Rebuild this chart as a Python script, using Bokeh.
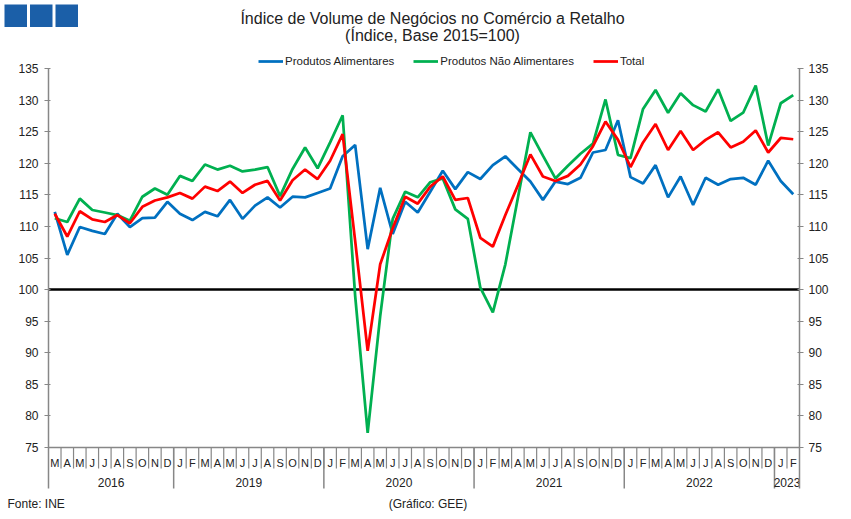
import numpy as np
from bokeh.plotting import figure
from bokeh.layouts import column
from bokeh.models import (Range1d, LinearAxis, FixedTicker, Legend, LegendItem, Span)
from bokeh.core.properties import value
from bokeh.embed import file_html
from bokeh.resources import INLINE

# ---------------- data ----------------
years = ["2016", "2019", "2020", "2021", "2022", "2023"]
months_per_year = [10, 12, 12, 12, 12, 2]
month_labels = (["M", "A", "M", "J", "J", "A", "S", "O", "N", "D"]
                + ["J", "F", "M", "A", "M", "J", "J", "A", "S", "O", "N", "D"] * 4
                + ["J", "F"])

alimentares = [112.3, 105.5, 109.9, 109.3, 108.8, 112.0, 109.9, 111.3, 111.4, 113.9,
               112.0, 111.0, 112.3, 111.6, 114.2, 111.2, 113.3, 114.6, 113.0, 114.7, 114.6, 115.3,
               116.0, 121.1, 122.9, 106.4, 116.1, 108.8, 113.9, 112.2, 115.5, 118.8, 115.9, 118.6,
               117.5, 119.7, 121.1, 119.1, 117.1, 114.2, 117.1, 116.7, 117.7, 121.7, 122.1, 126.8,
               117.8, 116.8, 119.7, 114.6, 117.9, 113.4, 117.7, 116.6, 117.5, 117.7, 116.6, 120.4,
               117.2, 115.1]

nao_alimentares = [111.3, 110.7, 114.4, 112.6, 112.2, 111.8, 110.9, 114.7, 116.0, 115.0,
                   118.0, 117.2, 119.8, 119.0, 119.6, 118.7, 119.0, 119.4, 114.8, 119.1, 122.5, 119.2,
                   123.3, 127.6, 99.0, 77.3, 95.8, 111.2, 115.5, 114.6, 117.0, 117.6, 112.7, 111.2,
                   100.3, 96.4, 104.0, 114.5, 124.9, 121.2, 117.6, 119.6, 121.5, 123.1, 130.1, 121.3,
                   120.8, 128.6, 131.6, 128.0, 131.1, 129.2, 128.2, 131.7, 126.7, 128.0, 132.3, 122.8,
                   129.5, 130.8]

total = [112.0, 108.4, 112.4, 111.1, 110.7, 111.8, 110.5, 113.1, 114.1, 114.6,
         115.3, 114.4, 116.3, 115.6, 117.1, 115.3, 116.6, 117.2, 114.1, 117.3, 119.0, 117.5,
         120.4, 124.6, 107.7, 90.3, 104.0, 109.7, 114.7, 113.6, 116.3, 117.9, 114.2, 114.5,
         108.2, 106.8, 111.8, 116.5, 121.4, 117.9, 117.2, 118.0, 119.8, 122.7, 126.6, 123.7,
         119.4, 123.3, 126.2, 122.1, 125.1, 122.1, 123.7, 124.9, 122.5, 123.4, 125.2, 121.7,
         124.0, 123.8]

y_ticks = [75, 80, 85, 90, 95, 100, 105, 110, 115, 120, 125, 130, 135]

title1 = "Índice de Volume de Negócios no Comércio a Retalho"
title2 = "(Índice, Base 2015=100)"
series_names = ["Produtos Alimentares", "Produtos Não Alimentares", "Total"]
source_text = "Fonte: INE"
credit_text = "(Gráfico: GEE)"

# ---------------- layout ----------------
W = 851
HEAD_H, FOOT_H = 50, 24
MAIN_H = 519 - HEAD_H - FOOT_H
FL, FR = 48, 799                  # frame left/right in page pixels
Y135_PX, Y75_PX = 68, 447         # page pixel rows of 135 and 75
AXIS_END_PX = 488                 # where the vertical axis lines / year separators stop
FRAME_TOP, FRAME_BOT = HEAD_H, HEAD_H + MAIN_H
YMIN_AX, YMAX_AX = 75, 135
PPU = (Y75_PX - Y135_PX) / (YMAX_AX - YMIN_AX)
Y_TOP = YMAX_AX + (Y135_PX - FRAME_TOP) / PPU
Y_BOT = YMIN_AX - (FRAME_BOT - Y75_PX) / PPU


def yv(py):
    """page pixel row -> data value on the main chart"""
    return YMAX_AX - (py - Y135_PX) / PPU


Y_AX_END = yv(AXIS_END_PX)

n = len(month_labels)
FONT = "Liberation Sans"
AX_COL = "#878787"
TXT_COL = "#222222"
LOGO_COL = "#1B5FA8"


def no_align(f):
    try:
        f.frame_align = False
    except Exception:
        pass


def blank(height):
    f = figure(width=W, height=height, output_backend="svg", toolbar_location=None,
               x_range=Range1d(0, W), y_range=Range1d(height, 0),
               x_axis_type=None, y_axis_type=None,
               min_border_left=0, min_border_right=0, min_border_top=0, min_border_bottom=0)
    f.outline_line_color = None
    f.grid.visible = False
    no_align(f)
    return f


# ---- header: logo and title ----
head = blank(HEAD_H)
logo_left = [4, 29.5, 55]
head.quad(left=logo_left, right=[v + 22.5 for v in logo_left], top=[4] * 3, bottom=[26.5] * 3,
          fill_color=LOGO_COL, line_color=None)
head.text(x=[432, 432], y=[17.5, 35], text=[title1, title2], text_align="center",
          text_baseline="middle", text_font=value(FONT), text_font_size="16px",
          text_color=TXT_COL)

# ---- main chart ----
p = figure(width=W, height=MAIN_H, output_backend="svg", toolbar_location=None,
           x_range=Range1d(0, n), y_range=Range1d(Y_BOT, Y_TOP),
           x_axis_type=None, y_axis_type=None,
           min_border_left=FL, min_border_right=W - FR,
           min_border_top=0, min_border_bottom=0)
p.outline_line_color = None
p.background_fill_color = "white"
p.border_fill_color = "white"
no_align(p)

for side in ("left", "right"):
    ax = LinearAxis(ticker=FixedTicker(ticks=y_ticks), bounds=(Y_AX_END, YMAX_AX))
    ax.axis_line_color = AX_COL
    ax.axis_line_width = 1.5
    ax.major_tick_line_color = AX_COL
    ax.major_tick_line_width = 1
    ax.major_tick_out = 4
    ax.major_tick_in = 2
    ax.minor_tick_line_color = None
    ax.major_label_text_font = FONT
    ax.major_label_text_font_size = "12px"
    ax.major_label_text_color = TXT_COL
    ax.major_label_standoff = 6 if side == "left" else 5
    p.add_layout(ax, side)

# horizontal axis line at 75 and reference line at 100
p.segment(x0=[0], y0=[YMIN_AX], x1=[n], y1=[YMIN_AX], line_color=AX_COL, line_width=1.5)
p.add_layout(Span(location=100, dimension="width", line_color="black",
                  line_width=2.5, level="underlay"))

# category axis: month separators, month labels, year separators and labels
xb = np.arange(1, n)
p.segment(x0=xb, y0=YMIN_AX, x1=xb, y1=yv(468), line_color=AX_COL, line_width=1.2)
bounds = np.cumsum(months_per_year)
starts = np.concatenate([[0], bounds[:-1]])
p.segment(x0=bounds[:-1], y0=YMIN_AX, x1=bounds[:-1], y1=Y_AX_END, line_color=AX_COL, line_width=1.5)
xc = np.arange(n) + 0.5
p.text(x=xc, y=yv(462.5), text=month_labels, text_align="center", text_baseline="middle",
       text_font=value(FONT), text_font_size="11px", text_color=TXT_COL)
p.text(x=(starts + bounds) / 2.0, y=yv(482), text=years, text_align="center",
       text_baseline="middle", text_font=value(FONT), text_font_size="12px", text_color=TXT_COL)

# data lines
r_a = p.line(xc, alimentares, line_color="#0070C0", line_width=2.75)
r_n = p.line(xc, nao_alimentares, line_color="#00B050", line_width=2.75)
r_t = p.line(xc, total, line_color="#FF0000", line_width=2.75)

legend = Legend(items=[LegendItem(label=series_names[0], renderers=[r_a]),
                       LegendItem(label=series_names[1], renderers=[r_n]),
                       LegendItem(label=series_names[2], renderers=[r_t])],
                location=(258 - FL, FRAME_BOT - 68), orientation="horizontal",
                glyph_width=25, glyph_height=14, label_standoff=2, spacing=19,
                padding=0, margin=0, border_line_color=None, background_fill_alpha=0,
                label_text_font=FONT, label_text_font_size="11.5px", label_text_color=TXT_COL,
                label_height=14)
p.add_layout(legend)

# ---- footer ----
foot = blank(FOOT_H)
FOOT_Y = 503 - FRAME_BOT
foot.text(x=[7], y=[FOOT_Y], text=[source_text], text_align="left", text_baseline="middle",
          text_font=value(FONT), text_font_size="12px", text_color=TXT_COL)
foot.text(x=[427.5], y=[FOOT_Y], text=[credit_text], text_align="center", text_baseline="middle",
          text_font=value(FONT), text_font_size="12px", text_color=TXT_COL)

layout = column(head, p, foot, spacing=0)
open("out.html", "w").write(file_html(layout, INLINE))
